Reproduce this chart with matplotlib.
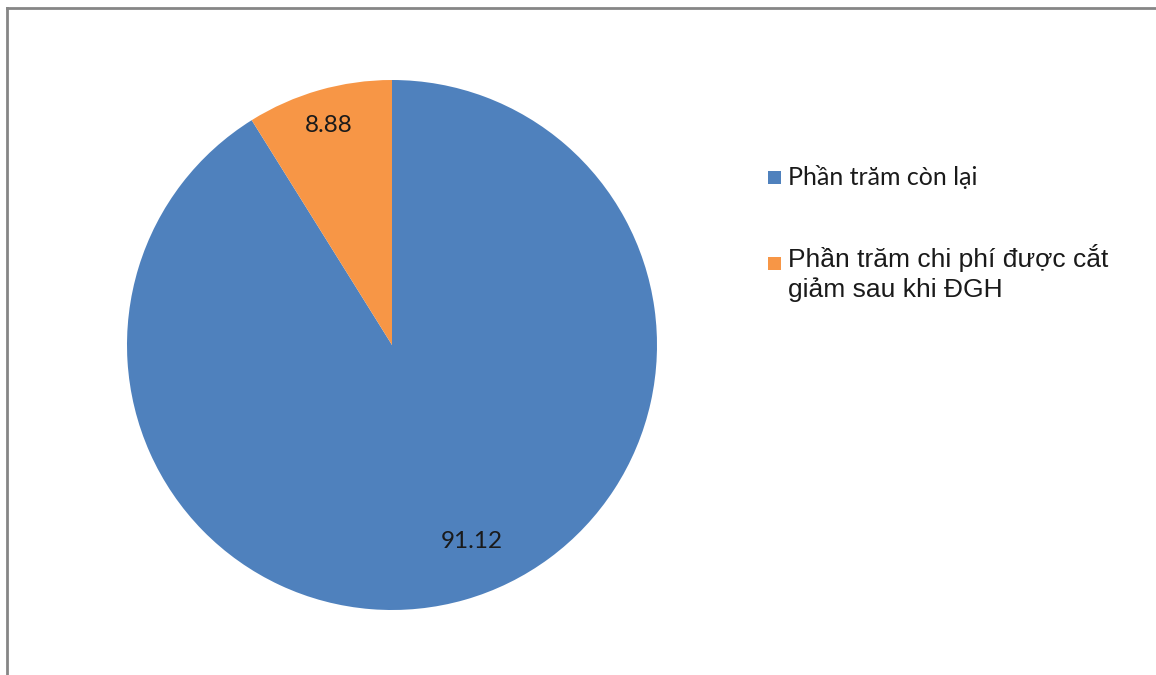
import numpy as np
import matplotlib
matplotlib.use("Agg")
import matplotlib.pyplot as plt
from matplotlib.patches import Rectangle
from matplotlib.lines import Line2D

categories = ["Phần trăm còn lại", "Phần trăm chi phí được cắt\ngiảm sau khi ĐGH"]
values = [91.12, 8.88]
value_labels = ["91.12", "8.88"]
colors = ["#4F81BD", "#F79646"]

W, H = 1156, 675
fig = plt.figure(figsize=(W / 100, H / 100), dpi=100)
fig.patch.set_facecolor("white")

# pie axes: pixel box (127..657, 80..610)
ax = fig.add_axes([127 / W, (H - 610) / H, 530 / W, 530 / H])
wedges, _ = ax.pie(values, colors=colors, startangle=90, counterclock=False,
                   radius=1.0, wedgeprops=dict(linewidth=0))
ax.set_xlim(-1, 1)
ax.set_ylim(-1, 1)
ax.axis("off")

# data labels at wedge mid-angles
dists = [0.80, 0.86]
offsets = [6, 0]
for w, lab, d, off in zip(wedges, value_labels, dists, offsets):
    mid = np.deg2rad((w.theta1 + w.theta2) / 2 + off)
    ax.text(d * np.cos(mid), d * np.sin(mid), lab, ha="center", va="center",
            fontsize=17.5, family=["Lato", "DejaVu Sans"], color="#1a1a1a")

# legend drawn manually
legend_fonts = [["Lato", "DejaVu Sans"], ["Liberation Sans", "DejaVu Sans"]]
legend_sizes = [18, 19]
legend_base = [185, 297]
legend_sq = [177, 263]
for lab, col, fam, fs, yb, ys in zip(categories, colors, legend_fonts,
                                      legend_sizes, legend_base, legend_sq):
    fig.add_artist(Rectangle((768 / W, (H - ys - 6.5) / H), 13 / W, 13 / H,
                             transform=fig.transFigure, facecolor=col,
                             edgecolor="none"))
    fig.text(788 / W, (H - yb) / H, lab, ha="left", va="baseline",
             fontsize=fs, family=fam, color="#1a1a1a", linespacing=1.26)

# chart-area border (top and left visible)
fig.add_artist(Line2D([7 / W, 1.01], [(H - 8) / H, (H - 8) / H],
                      transform=fig.transFigure, color="#868686", linewidth=2.0))
fig.add_artist(Line2D([7 / W, 7 / W], [-0.01, (H - 8) / H],
                      transform=fig.transFigure, color="#868686", linewidth=2.0))

fig.savefig("out.png", dpi=100, facecolor="white")
